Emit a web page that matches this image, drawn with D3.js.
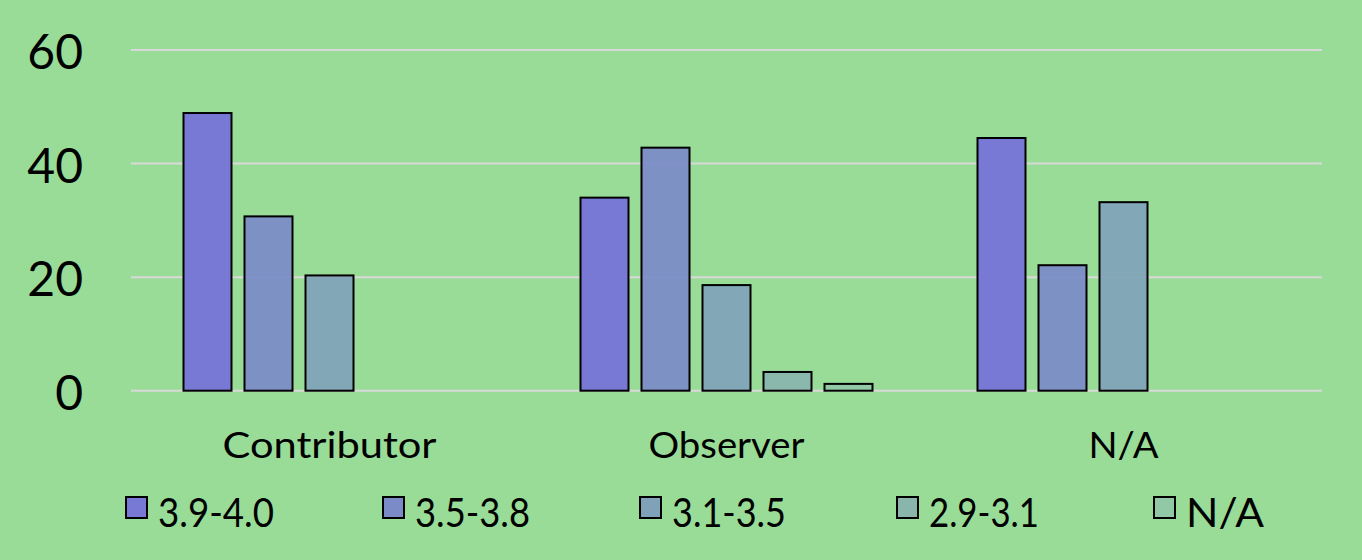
<!DOCTYPE html>
<html><head><meta charset="utf-8">
<script src="https://cdn.jsdelivr.net/npm/d3@7"></script>
<style>html,body{margin:0;padding:0;background:#98dc98;}svg{display:block;}</style>
</head><body><svg id="c" width="1362" height="560"></svg>
<script>
const categories = ["Contributor", "Observer", "N/A"];
const seriesNames = ["3.9-4.0", "3.5-3.8", "3.1-3.5", "2.9-3.1", "N/A"];
const s1 = [48.9, 34.0, 44.5];
const s2 = [30.7, 42.8, 22.1];
const s3 = [20.3, 18.6, 33.2];
const s4 = [0, 3.3, 0];
const s5 = [0, 1.2, 0];
const yTicks = [0, 20, 40, 60];
const colors = ["#7779d4", "#7b8bc7", "#80a2b8", "#89b5ad", "#91c8a6"];

// text widths to mimic the original (narrow humanist) typeface
const catTextLen = {"Contributor": 214, "Observer": 156, "N/A": 70};
const legTextLen = [116, 115, 114, 110, 78];

const series = [s1, s2, s3, s4, s5];
const svg = d3.select("#c");
const W = 1362, H = 560;
svg.append("rect").attr("width", W).attr("height", H).attr("fill", "#98dc98");
const font = "Lato, 'Noto Sans', sans-serif";

const x0 = d3.scaleBand().domain(categories).range([131, 1322]).paddingInner(0).paddingOuter(0);
const y = d3.scaleLinear().domain([0, 60]).range([390.7, 50]);
const p = 13/61;
const x1 = d3.scaleBand().domain(d3.range(5)).range([0, 305]).paddingInner(p).paddingOuter(p/2);

// gridlines
svg.append("g").selectAll("line").data(yTicks).join("line")
  .attr("x1", 131).attr("x2", 1322)
  .attr("y1", d => y(d)).attr("y2", d => y(d))
  .attr("stroke", "#d9d9d9").attr("stroke-width", 2);

// y tick labels
svg.append("g").selectAll("text").data(yTicks).join("text")
  .attr("x", 83).attr("y", d => y(d) + 19)
  .attr("text-anchor", "end")
  .attr("font-family", font).attr("font-size", 48)
  .attr("fill", "#000").text(d => d);

// bars
const groups = svg.append("g").selectAll("g").data(categories).join("g")
  .attr("transform", c => `translate(${x0(c) + x0.bandwidth()/2 - 152.5},0)`);
groups.selectAll("rect").data((c, ci) => series.map((s, si) => ({si, v: s[ci]})).filter(d => d.v > 0))
  .join("rect")
  .attr("x", d => x1(d.si))
  .attr("width", x1.bandwidth())
  .attr("y", d => y(d.v))
  .attr("height", d => y(0) - y(d.v))
  .attr("fill", d => colors[d.si])
  .attr("fill-opacity", d => d.si === 0 ? 1 : 0.93)
  .attr("stroke", "#000").attr("stroke-width", 2);

// category labels
svg.append("g").selectAll("text").data(categories).join("text")
  .attr("x", c => x0(c) + x0.bandwidth()/2)
  .attr("y", 458)
  .attr("text-anchor", "middle")
  .attr("font-family", font).attr("font-size", 37)
  .attr("textLength", c => catTextLen[c]).attr("lengthAdjust", "spacingAndGlyphs")
  .attr("fill", "#000").text(c => c);

// legend
const lg = svg.append("g").selectAll("g").data(seriesNames).join("g")
  .attr("transform", (d, i) => `translate(${126 + i*257},0)`);
lg.append("rect").attr("x", 0).attr("y", 497).attr("width", 21).attr("height", 21)
  .attr("fill", (d, i) => colors[i]).attr("stroke", "#000").attr("stroke-width", 2);
lg.append("text").attr("x", 32).attr("y", 527)
  .attr("font-family", font).attr("font-size", 40)
  .attr("textLength", (d, i) => legTextLen[i]).attr("lengthAdjust", "spacingAndGlyphs")
  .attr("fill", "#000").text(d => d);
</script></body></html>
